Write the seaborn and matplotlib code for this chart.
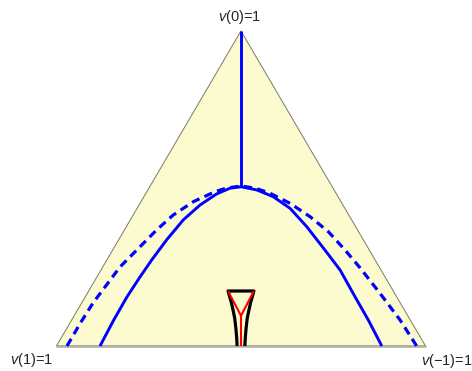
import numpy as np
import pandas as pd
import matplotlib
matplotlib.use("Agg")
import matplotlib.pyplot as plt
import seaborn as sns

sns.set_style("white")
plt.rcParams['font.family'] = ['Liberation Sans', 'DejaVu Sans']
plt.rcParams['mathtext.fontset'] = 'custom'
plt.rcParams['mathtext.it'] = 'Liberation Sans:italic'
plt.rcParams['mathtext.rm'] = 'Liberation Sans'
plt.rcParams['lines.solid_joinstyle'] = 'round'
plt.rcParams['lines.solid_capstyle'] = 'butt'

# simplex corners: v(1)=1 (left), v(-1)=1 (right), v(0)=1 (top)
tri_x = [-1.0, 1.0, 0.0]
tri_y = [0.0, 0.0, 1.707]
corner_labels = ['$v$(1)=1', '$v$(\u22121)=1', '$v$(0)=1']

# solid boundary curve
solid_x = [-0.764, -0.690, -0.618, -0.550, -0.484, -0.403, -0.313, -0.222, -0.132, -0.060, 0.0,
           0.085, 0.175, 0.266, 0.356, 0.455, 0.537, 0.618, 0.690, 0.763]
solid_y = [0.0, 0.140, 0.266, 0.370, 0.466, 0.575, 0.683, 0.764, 0.824, 0.855, 0.863,
           0.846, 0.809, 0.746, 0.647, 0.520, 0.412, 0.267, 0.141, 0.0]

# dashed boundary curve
dash_x = [-0.943, -0.870, -0.802, -0.656, -0.547, -0.457, -0.367, -0.258, -0.141, -0.078, 0.0,
          0.078, 0.157, 0.266, 0.374, 0.473, 0.564, 0.645, 0.753, 0.862, 0.952]
dash_y = [0.0, 0.125, 0.233, 0.428, 0.538, 0.629, 0.710, 0.782, 0.836, 0.856, 0.867,
          0.855, 0.828, 0.773, 0.701, 0.620, 0.520, 0.424, 0.286, 0.141, 0.0]

# vertical branch up to the v(0) corner
stem_x = [0.0, 0.0]
stem_y = [0.863, 1.707]

# small region near the base (black outline) and its red skeleton
blk_x = [-0.021, -0.023, -0.028, -0.034, -0.042, -0.052, -0.070, 0.070, 0.052, 0.042, 0.034, 0.028, 0.023, 0.021]
blk_y = [0.0, 0.040, 0.100, 0.150, 0.190, 0.235, 0.298, 0.298, 0.235, 0.190, 0.150, 0.100, 0.040, 0.0]
red_x = [-0.070, 0.0, 0.070]
red_y = [0.298, 0.164, 0.298]
red_stem_x = [0.0, 0.0]
red_stem_y = [0.164, 0.0]

fig = plt.figure(figsize=(4.72, 3.71), dpi=100)
ax = fig.add_axes([0, 0, 1, 1])

ax.fill(tri_x, tri_y, color='#fcfbd0', zorder=0)
ax.plot(tri_x + [tri_x[0]], tri_y + [tri_y[0]], color='#7a7a72', lw=0.7, zorder=1)
ax.plot(tri_x[:2], tri_y[:2], color='#aeaea6', lw=1.8, zorder=1)

blue = '#0000ff'
sns.lineplot(x=solid_x, y=solid_y, sort=False, estimator=None, color=blue, lw=2.1, ax=ax)
sns.lineplot(x=dash_x, y=dash_y, sort=False, estimator=None, color=blue, lw=2.3,
             linestyle=(0, (2.6, 1.7)), ax=ax)
sns.lineplot(x=stem_x, y=stem_y, sort=False, estimator=None, color=blue, lw=2.1, ax=ax)

sns.lineplot(x=blk_x, y=blk_y, sort=False, estimator=None, color='black', lw=2.3, ax=ax)
sns.lineplot(x=red_x, y=red_y, sort=False, estimator=None, color='#ff0000', lw=1.5, ax=ax)
sns.lineplot(x=red_stem_x, y=red_stem_y, sort=False, estimator=None, color='#ff0000', lw=1.5, ax=ax)

fs = 10.5
ax.text(-1.136, -0.076, corner_labels[0], fontsize=fs, ha='center', va='center')
ax.text(0.974, -0.081, corner_labels[1], fontsize=fs, ha='left', va='center')
ax.text(-0.008, 1.783, corner_labels[2], fontsize=fs, ha='center', va='center')

ax.set_xlim(-1.306, 1.252)
ax.set_ylim(-0.1355, 1.875)
ax.axis('off')

fig.savefig('out.png', dpi=100)
